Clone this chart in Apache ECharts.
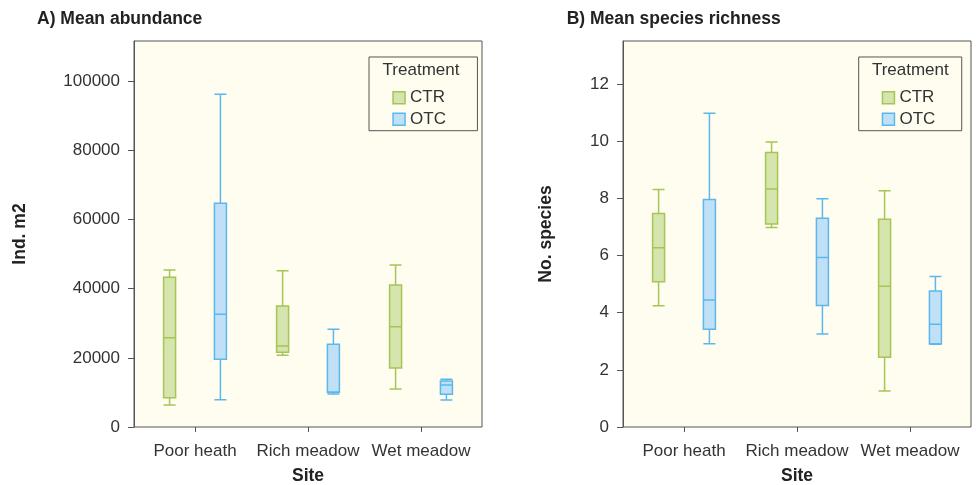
<!DOCTYPE html>
<html>
<head>
<meta charset="utf-8">
<script src="https://cdn.jsdelivr.net/npm/echarts@6/dist/echarts.min.js"></script>
<style>
html, body { margin: 0; padding: 0; background: #ffffff; }
#chart { width: 977px; height: 485px; }
</style>
</head>
<body>
<div id="chart"></div>
<script>
// ---- data ----
const sites = ['Poor heath', 'Rich meadow', 'Wet meadow'];
const treatments = ['CTR', 'OTC'];
// each box: [lower whisker, Q1, median, Q3, upper whisker]
const abundanceCTR = [[6360, 8470, 25820, 43270, 45390], [20720, 21590, 23420, 34980, 45200], [10990, 17060, 29000, 41050, 46830]];
const abundanceOTC = [[7900, 19570, 32580, 64670, 96180], [9540, 10020, 10100, 23900, 28230], [7800, 9450, 12140, 13300, 13790]];
const richnessCTR = [[4.24, 5.08, 6.27, 7.47, 8.31], [6.98, 7.10, 8.32, 9.60, 9.97], [1.26, 2.44, 4.92, 7.27, 8.26]];
const richnessOTC = [[2.91, 3.42, 4.44, 7.96, 10.97], [3.25, 4.25, 5.93, 7.30, 7.98], [2.89, 2.91, 3.59, 4.76, 5.26]];
const abundanceTicks = [0, 20000, 40000, 60000, 80000, 100000];
const richnessTicks = [0, 2, 4, 6, 8, 10, 12];
const abundanceMax = 111600;
const richnessMax = 13.5;

// ---- styling ----
const FONT = '"Liberation Sans", Arial, Helvetica, sans-serif';
const AXIS = '#555555';
const TXT = '#333333';
const BG = '#fffdf0';
const colors = {
  CTR: { fill: '#d6e4ad', stroke: '#a3c655' },
  OTC: { fill: '#bfe0f7', stroke: '#5cb8ec' }
};

const chart = echarts.init(document.getElementById('chart'), null, { renderer: 'canvas' });

function frameGrid(left) {
  return { left: left, top: 41, width: 348, height: 386, show: true, backgroundColor: BG, borderColor: AXIS, borderWidth: 1, containLabel: false, outerBoundsMode: 'none' };
}
function dataGrid(left) {
  return { left: left + 4.5, top: 41, width: 339, height: 386, show: false, containLabel: false, outerBoundsMode: 'none' };
}
function hiddenX(gi) {
  return { gridIndex: gi, type: 'value', min: 0, max: 1, show: false };
}
function siteX(gi) {
  return {
    gridIndex: gi, type: 'category', data: sites, boundaryGap: true,
    axisLine: { show: false },
    axisTick: { show: true, alignWithLabel: true, length: 5, lineStyle: { color: AXIS, width: 1 } },
    axisLabel: { interval: 0, margin: 15.5, color: TXT, fontSize: 17, fontFamily: FONT },
    splitLine: { show: false },
    name: 'Site', nameLocation: 'middle', nameGap: 40, nameMoveOverlap: false,
    nameTextStyle: { color: '#222', fontSize: 17.5, fontWeight: 'bold', fontFamily: FONT }
  };
}
function valueY(gi, ticks, max, name, gap) {
  return {
    gridIndex: gi, type: 'value', min: ticks[0], max: max, interval: ticks[1] - ticks[0],
    axisLine: { show: true, lineStyle: { color: AXIS, width: 1 } },
    axisTick: { show: true, length: 6, lineStyle: { color: AXIS, width: 1 } },
    axisLabel: {
      margin: 14, color: TXT, fontSize: 17, fontFamily: FONT, showMaxLabel: false, showMinLabel: true,
      formatter: function (v) { return ticks.indexOf(v) >= 0 ? String(v) : ''; }
    },
    splitLine: { show: false },
    name: name, nameLocation: 'middle', nameGap: gap, nameMoveOverlap: false,
    nameTextStyle: { color: '#222', fontSize: 17.5, fontWeight: 'bold', fontFamily: FONT }
  };
}
function hiddenY(gi, ticks, max) {
  return { gridIndex: gi, type: 'value', min: ticks[0], max: max, interval: ticks[1] - ticks[0], show: false, splitLine: { show: false } };
}
function box(name, data, xi, yi) {
  return {
    type: 'boxplot', name: name, data: data, xAxisIndex: xi, yAxisIndex: yi,
    boxWidth: [12, 12],
    itemStyle: { color: colors[name].fill, borderColor: colors[name].stroke, borderWidth: 1.5 },
    emphasis: { disabled: true },
    silent: true
  };
}
function legendBox(left, padding) {
  return {
    data: treatments.map(function (t) {
      return { name: t, itemStyle: { color: colors[t].fill, borderColor: colors[t].stroke, borderWidth: 1.5 } };
    }),
    orient: 'vertical', left: left, top: 57, padding: padding,
    itemWidth: 12, itemHeight: 12, itemGap: 4.6, icon: 'rect',
    backgroundColor: BG, borderColor: AXIS, borderWidth: 1,
    selectedMode: false,
    textStyle: { color: TXT, fontSize: 17, fontFamily: FONT }
  };
}

const option = {
  animation: false,
  backgroundColor: '#ffffff',
  title: [
    { text: 'A) Mean abundance', left: 37, top: 10, padding: 0, textStyle: { color: '#222', fontSize: 17.5, fontWeight: 'bold', fontFamily: FONT } },
    { text: 'B) Mean species richness', left: 566.7, top: 10, padding: 0, textStyle: { color: '#222', fontSize: 17.5, fontWeight: 'bold', fontFamily: FONT } },
    { text: 'Treatment', left: 421, top: 62.3, padding: 0, textAlign: 'center', z: 10, textStyle: { color: TXT, fontSize: 17, fontWeight: 'normal', fontFamily: FONT } },
    { text: 'Treatment', left: 910.3, top: 62.3, padding: 0, textAlign: 'center', z: 10, textStyle: { color: TXT, fontSize: 17, fontWeight: 'normal', fontFamily: FONT } }
  ],
  legend: [
    legendBox(369, [32.2, 31.5, 2.9, 23.3]),
    legendBox(858.7, [32.2, 26.4, 2.9, 23])
  ],
  grid: [frameGrid(134), dataGrid(134), frameGrid(623), dataGrid(623)],
  xAxis: [hiddenX(0), siteX(1), hiddenX(2), siteX(3)],
  yAxis: [
    valueY(0, abundanceTicks, abundanceMax, 'Ind. m2', 105),
    hiddenY(1, abundanceTicks, abundanceMax),
    valueY(2, richnessTicks, richnessMax, 'No. species', 67.5),
    hiddenY(3, richnessTicks, richnessMax)
  ],
  series: [
    box('CTR', abundanceCTR, 1, 1),
    box('OTC', abundanceOTC, 1, 1),
    box('CTR', richnessCTR, 3, 3),
    box('OTC', richnessOTC, 3, 3)
  ]
};
chart.setOption(option);
</script>
</body>
</html>
